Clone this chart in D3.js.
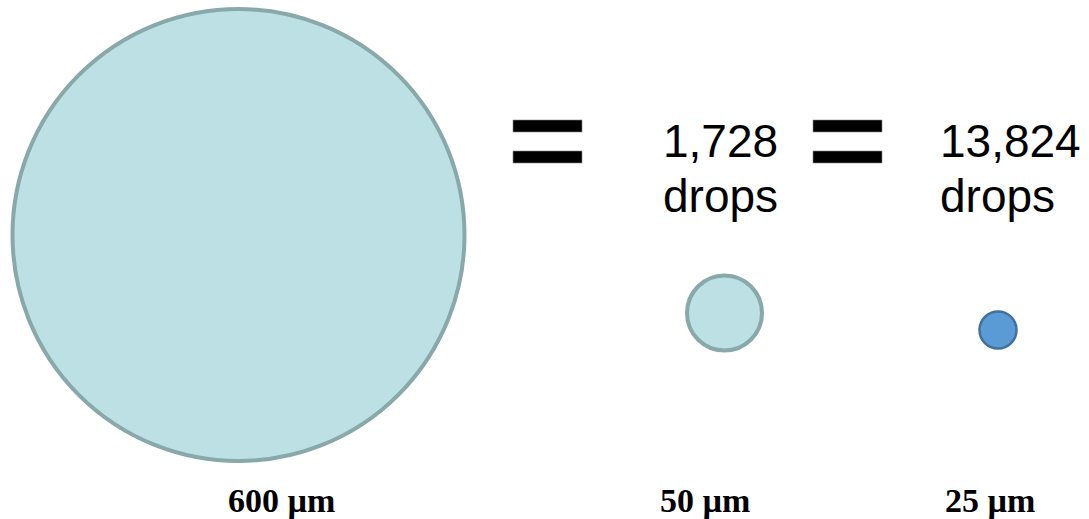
<!DOCTYPE html>
<html>
<head>
<meta charset="utf-8">
<script src="https://cdn.jsdelivr.net/npm/d3@7"></script>
<style>
  html, body { margin: 0; padding: 0; background: #ffffff; }
  svg { display: block; }
</style>
</head>
<body>
<div id="chart"></div>
<script>
// Data
const categories = ["600 µm", "50 µm", "25 µm"];
const diameters = [600, 50, 25];
const dropCounts = ["", "1,728", "13,824"];
const dropWord = ["", "drops", "drops"];
const equalsBetween = [0, 1]; // equals sign after category index

const W = 1089, H = 519;
const svg = d3.select("#chart").append("svg")
  .attr("width", W).attr("height", H);

// Scales
const xCenter = d3.scaleOrdinal().domain(categories).range([238.5, 724.5, 998]);
const yCenter = d3.scaleOrdinal().domain(categories).range([235, 313, 330]);
const rScale = d3.scaleLinear().domain([25, 50, 600]).range([18.5, 37.5, 226]);
const fillScale = d3.scaleOrdinal().domain(categories).range(["#BCE0E3", "#BCE0E3", "#5B9BD5"]);
const strokeScale = d3.scaleOrdinal().domain(categories).range(["#88A8AA", "#88A8AA", "#41719C"]);
const strokeW = d3.scaleOrdinal().domain(categories).range([4, 4, 2.5]);
const labelX = d3.scaleOrdinal().domain(categories).range([228, 660, 945]);
const countX = d3.scaleOrdinal().domain(categories).range([0, 663, 940]);
const eqX = d3.scaleOrdinal().domain(equalsBetween).range([513, 813]);

const data = categories.map((c, i) => ({ cat: c, d: diameters[i], count: dropCounts[i], word: dropWord[i] }));

// Circles
svg.selectAll("circle.drop").data(data).join("circle")
  .attr("class", "drop")
  .attr("cx", d => xCenter(d.cat))
  .attr("cy", d => yCenter(d.cat))
  .attr("r", d => rScale(d.d))
  .attr("fill", d => fillScale(d.cat))
  .attr("stroke", d => strokeScale(d.cat))
  .attr("stroke-width", d => strokeW(d.cat));

// Equals signs
const eq = svg.selectAll("g.eq").data(equalsBetween).join("g").attr("class", "eq");
eq.selectAll("rect").data(e => [{ e, y: 120 }, { e, y: 151 }]).join("rect")
  .attr("x", d => eqX(d.e))
  .attr("y", d => d.y)
  .attr("width", 69)
  .attr("height", 12)
  .attr("fill", "#000")
  .attr("stroke", "#888")
  .attr("stroke-width", 0.6);

// Drop counts
const withCounts = data.filter(d => d.count);
svg.selectAll("text.count").data(withCounts).join("text")
  .attr("class", "count")
  .attr("x", d => countX(d.cat))
  .attr("y", 157)
  .attr("font-family", "Liberation Sans, Arial, sans-serif")
  .attr("font-size", 46)
  .attr("fill", "#000")
  .text(d => d.count);
svg.selectAll("text.word").data(withCounts).join("text")
  .attr("class", "word")
  .attr("x", d => countX(d.cat))
  .attr("y", 212)
  .attr("font-family", "Liberation Sans, Arial, sans-serif")
  .attr("font-size", 46)
  .attr("fill", "#000")
  .text(d => d.word);

// Size labels
svg.selectAll("text.size").data(data).join("text")
  .attr("class", "size")
  .attr("x", d => labelX(d.cat))
  .attr("y", 512)
  .attr("font-family", "Liberation Serif, Times New Roman, serif")
  .attr("font-weight", "bold")
  .attr("font-size", 34)
  .attr("fill", "#000")
  .text(d => d.cat);
</script>
</body>
</html>
